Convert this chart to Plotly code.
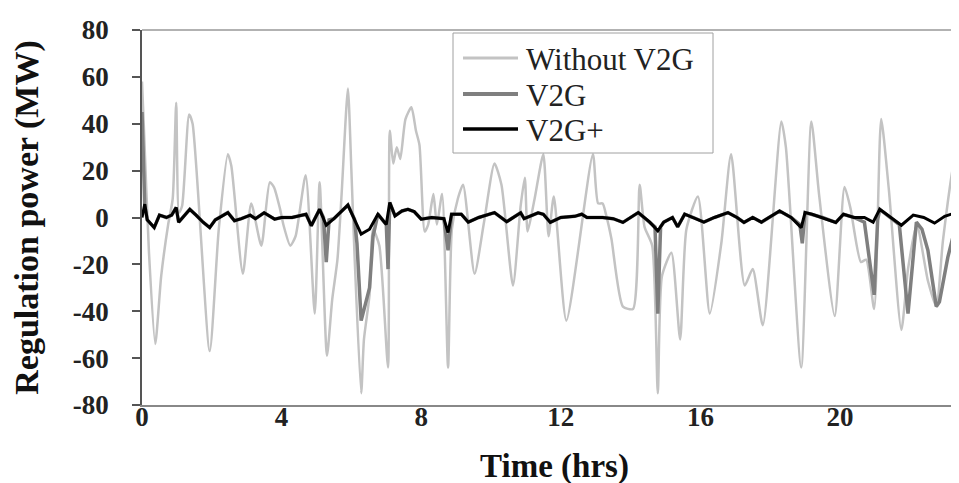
import plotly.graph_objects as go

# ---- data ----
without_points = [
    (0, 58), (0.05, 40), (0.2, -15), (0.38, -54), (0.55, -25), (0.75, -3), (0.88, 8),
    (0.98, 49), (1.06, 2), (1.15, 5), (1.35, 44), (1.45, 40), (1.94, -57), (2.2, -5),
    (2.46, 27), (2.56, 22), (2.89, -24), (3.13, 6), (3.42, -12), (3.66, 15), (3.78, 13),
    (3.95, 4), (4.05, -3), (4.25, -12), (4.4, -8), (4.69, 18), (4.95, -41), (5.09, 15),
    (5.3, -59), (5.45, -35), (5.6, -18), (5.72, 10), (5.9, 55), (6.0, 20), (6.09, -16),
    (6.28, -75), (6.36, -52), (6.52, -33), (6.62, -5), (6.8, -12), (7.05, -64), (7.1, 37),
    (7.2, 23), (7.3, 30), (7.4, 25), (7.55, 42), (7.72, 47), (7.85, 37), (7.95, 31),
    (8.1, -6), (8.2, -3), (8.35, 10), (8.45, -3), (8.6, 10), (8.77, -64), (8.88, -5),
    (9.05, 8), (9.2, 14), (9.53, -24), (9.8, -2), (10.1, 23), (10.3, 14), (10.63, -29),
    (10.85, 5), (10.97, 17), (11.05, -6), (11.25, 8), (11.5, 27), (11.65, -8), (11.8, 9),
    (12.16, -44), (12.92, 27), (13.07, 6), (13.2, 6), (13.3, 1), (13.45, -9), (13.78, -38),
    (14.07, -39), (14.26, 14), (14.4, -4), (14.62, -12), (14.78, -75), (14.9, -25),
    (15.17, -15), (15.42, -52), (15.6, -5), (15.93, 9), (16.27, -41), (16.6, -11),
    (16.88, 27), (17.27, -29), (17.5, -22), (17.79, -46), (18.32, 41), (18.45, 30),
    (18.89, -64), (19.18, 41), (19.4, 10), (19.85, -42), (20.13, 13), (20.3, 4),
    (20.6, -19), (20.75, -18), (20.98, -39), (21.18, 42), (21.4, 12), (21.76, -48),
    (21.95, -22), (22.2, -3), (22.52, -27), (22.76, -38), (22.95, -10), (23.28, 25),
    (23.48, 36), (23.65, 24),
]

v2g_points = [
    (0, 45), (0.03, 28), (0.08, 5), (0.15, -1), (0.35, -4.3), (0.5, 1), (0.7, 0), (0.85, 1),
    (0.98, 4.3), (1.05, -2), (1.2, 0.5), (1.37, 3.5), (1.55, 1), (1.75, -2), (1.94, -4.3),
    (2.1, -1), (2.46, 2.1), (2.65, -1.4), (2.85, -0.5), (3.1, 1), (3.25, -0.5), (3.5, 2),
    (3.8, -0.7), (4.0, 0), (4.3, 0), (4.7, 1.4), (4.85, -3.5), (5.09, 3.5), (5.2, 0),
    (5.28, -19), (5.36, -1), (5.5, -0.5), (5.9, 5.3), (6.09, -0.7), (6.16, -11), (6.28, -44),
    (6.52, -30), (6.62, -8), (6.76, 1.4), (7.0, -3), (7.05, -22), (7.1, 6.4), (7.25, 0.7),
    (7.45, 2.8), (7.62, 3.5), (7.8, 2.5), (8.0, -0.7), (8.3, 0), (8.65, -0.5), (8.77, -14),
    (8.87, 1.4), (9.15, 1.4), (9.35, -2), (9.65, 0), (10.1, 2.1), (10.45, -1.8), (10.85, 2),
    (10.95, -0.5), (11.35, 2), (11.5, 1.4), (11.7, -2.1), (12.0, 0), (12.4, 0.5), (12.6, 1.4),
    (12.75, 0), (13.2, 0), (13.5, -0.5), (13.78, -2.1), (14.22, 2.1), (14.55, -2), (14.7, -4),
    (14.78, -41), (14.86, -4), (14.95, -2), (15.2, 0), (15.35, -4), (15.55, 1.4), (15.8, 0),
    (16.1, -2), (16.4, 0), (16.79, 2.1), (17.05, 0), (17.25, -2.1), (17.5, 0), (17.75, -2),
    (18.27, 2.8), (18.6, 0), (18.85, -3), (18.92, -11), (19.0, 2.1), (19.2, 1.4), (19.5, 0),
    (19.88, -2.1), (20.1, 1.4), (20.4, 0), (20.7, -2), (20.98, -33), (21.08, -1), (21.14, 3.5),
    (21.45, 0), (21.7, -3), (21.95, -41), (22.19, -2), (22.35, -5), (22.52, -14), (22.76, -38),
    (22.85, -36), (23.09, -17), (23.28, -5.7), (23.45, 1.5), (23.65, 0),
]

v2gplus_points = [
    (0, 0), (0.08, 5.7), (0.15, -1), (0.35, -4.3), (0.5, 1), (0.7, 0), (0.85, 1), (0.98, 4.3),
    (1.05, -2), (1.2, 0.5), (1.37, 3.5), (1.55, 1), (1.75, -2), (1.94, -4.3), (2.1, -1),
    (2.46, 2.1), (2.65, -1.4), (2.85, -0.5), (3.1, 1), (3.25, -0.5), (3.5, 2), (3.8, -0.7),
    (4.0, 0), (4.3, 0), (4.7, 1.4), (4.85, -3.5), (5.09, 3.5), (5.28, -3.3), (5.5, -0.5),
    (5.9, 5.3), (6.09, -0.7), (6.28, -7.1), (6.52, -5), (6.76, 1.4), (7.0, -3), (7.1, 6.4),
    (7.25, 0.7), (7.45, 2.8), (7.62, 3.5), (7.8, 2.5), (8.0, -0.7), (8.3, 0), (8.65, -0.5),
    (8.77, -6.4), (8.87, 1.4), (9.15, 1.4), (9.35, -2), (9.65, 0), (10.1, 2.1), (10.45, -1.8),
    (10.85, 2), (10.95, -0.5), (11.35, 2), (11.5, 1.4), (11.7, -2.1), (12.0, 0), (12.4, 0.5),
    (12.6, 1.4), (12.75, 0), (13.2, 0), (13.5, -0.5), (13.78, -2.1), (14.22, 2.1), (14.55, -2),
    (14.78, -5.7), (14.95, -2), (15.2, 0), (15.35, -4), (15.55, 1.4), (15.8, 0), (16.1, -2),
    (16.4, 0), (16.79, 2.1), (17.05, 0), (17.25, -2.1), (17.5, 0), (17.75, -2), (18.27, 2.8),
    (18.6, 0), (18.89, -4.3), (19.0, 2.1), (19.2, 1.4), (19.5, 0), (19.88, -2.1), (20.1, 1.4),
    (20.4, 0), (20.7, 0), (20.95, -2), (21.14, 3.5), (21.45, 0), (21.76, -3.3), (22.1, 1),
    (22.4, 0), (22.71, -2.4), (23.0, 0.5), (23.33, 2.1), (23.65, 0),
]

without_t = [p[0] for p in without_points]
without_v = [p[1] for p in without_points]
v2g_t = [p[0] for p in v2g_points]
v2g_v = [p[1] for p in v2g_points]
v2gplus_t = [p[0] for p in v2gplus_points]
v2gplus_v = [p[1] for p in v2gplus_points]

x_ticks = [0, 4, 8, 12, 16, 20]
y_ticks = [-80, -60, -40, -20, 0, 20, 40, 60, 80]

series_names = ["Without V2G", "V2G", "V2G+"]
series_colors = ["#c3c3c3", "#7f7f7f", "#000000"]
series_widths = [2.5, 3.5, 3]

# ---- figure ----
FONT = "Liberation Serif"
fig = go.Figure()
fig.add_trace(go.Scatter(x=without_t, y=without_v, mode="lines", name=series_names[0],
                         line=dict(color=series_colors[0], width=series_widths[0],
                                   shape="spline", smoothing=0.6)))
fig.add_trace(go.Scatter(x=v2g_t, y=v2g_v, mode="lines", name=series_names[1],
                         line=dict(color=series_colors[1], width=series_widths[1])))
fig.add_trace(go.Scatter(x=v2gplus_t, y=v2gplus_v, mode="lines", name=series_names[2],
                         line=dict(color=series_colors[2], width=series_widths[2])))

# legend box drawn in paper coordinates (plot area: 825 x 375 px)
PW, PH = 825.0, 375.0
def px(xp):
    return (xp - 134) / PW
def py(yp):
    return (397 - yp) / PH

shapes = [
    dict(type="line", xref="paper", yref="paper", x0=0, x1=1, y0=1, y1=1,
         line=dict(color="#999999", width=1.5)),
    dict(type="rect", xref="paper", yref="paper", x0=px(445), x1=px(705), y0=py(145), y1=py(25),
         fillcolor="white", line=dict(color="#a0a0a0", width=1), layer="above"),
]
annotations = []
row_y = [50, 86, 121]
for name, col, w, ry in zip(series_names, series_colors, series_widths, row_y):
    shapes.append(dict(type="line", xref="paper", yref="paper", x0=px(455), x1=px(510),
                       y0=py(ry), y1=py(ry), line=dict(color=col, width=w + 0.5), layer="above"))
    annotations.append(dict(xref="paper", yref="paper", x=px(516), y=py(ry + 1), text=name,
                            showarrow=False, xanchor="left", yanchor="middle",
                            font=dict(family=FONT, size=31, color="#222222")))

fig.update_layout(
    width=959, height=483,
    margin=dict(l=134, r=0, t=22, b=86),
    plot_bgcolor="white", paper_bgcolor="white",
    font=dict(family=FONT, color="black"),
    showlegend=False,
    xaxis=dict(range=[0, 23.64], tickvals=x_ticks, ticktext=[str(v) for v in x_ticks],
               showline=True, linecolor="#888888", linewidth=1.5, ticks="",
               ticklabelstandoff=-13,
               showgrid=False, zeroline=False,
               tickfont=dict(family=FONT, size=27, weight="bold", color="#222222"),
               title=dict(text="Time (hrs)", standoff=23,
                          font=dict(family=FONT, size=33, weight="bold", color="#111111"))),
    yaxis=dict(range=[-80, 80], tickvals=y_ticks, ticktext=[str(v) for v in y_ticks],
               showline=True, linecolor="#555555", linewidth=1.5,
               ticks="outside", ticklen=8, tickcolor="#555555", tickwidth=1.5,
               ticklabelstandoff=18,
               showgrid=False, zeroline=False,
               tickfont=dict(family=FONT, size=27, weight="bold", color="#222222"),
               title=dict(text="Regulation power (MW)", standoff=24,
                          font=dict(family=FONT, size=34, weight="bold", color="#111111"))),
    shapes=shapes,
    annotations=annotations,
)

fig.write_html("out.html")
